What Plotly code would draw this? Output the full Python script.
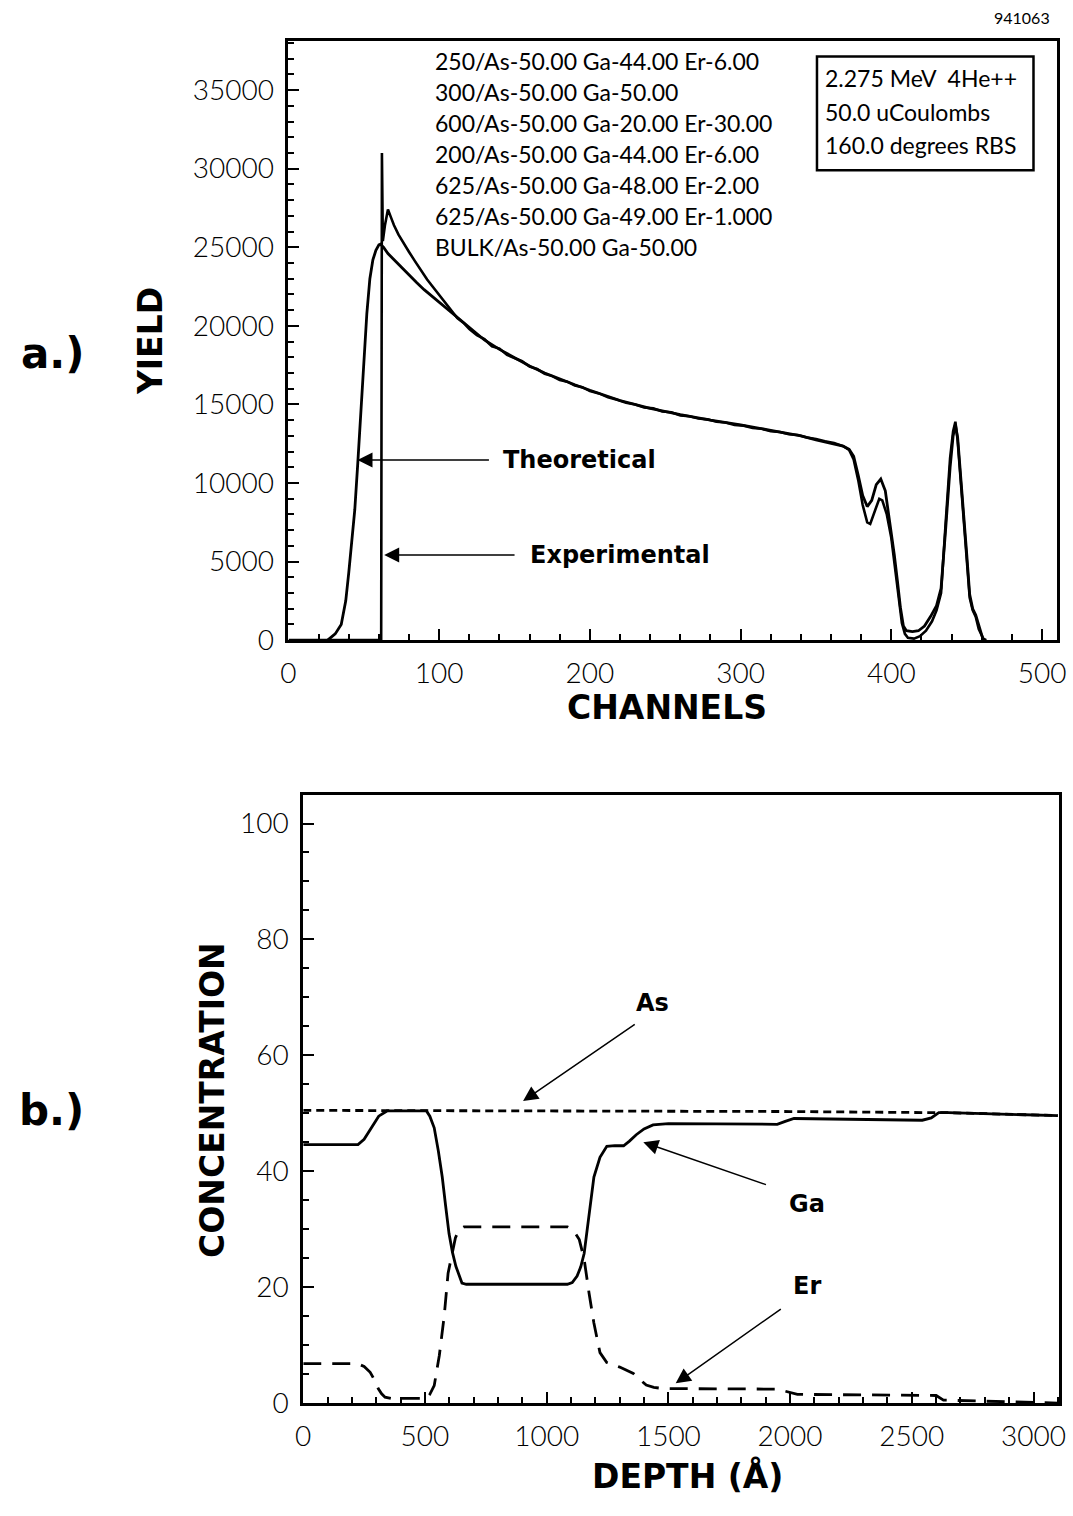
import plotly.graph_objects as go

# ---------------- a.) RBS spectrum ----------------
theo_channel = [26, 28, 31, 35, 38, 40, 42, 44, 46, 48, 50, 52, 54, 56, 58, 60, 61, 63, 66, 70,
                75, 80, 85, 90, 95, 100, 110, 120, 130, 140, 150, 160, 170, 180, 190, 200, 220,
                240, 260, 280, 300, 320, 340, 350, 360, 368, 372, 375, 378, 381, 384, 387, 390,
                393, 396, 399, 402, 404, 406, 408, 410, 414, 418, 422, 426, 430, 433, 436, 439,
                441, 442.5, 444, 446, 448, 450, 452, 454, 456, 458, 461]
theo_yield = [0, 150, 400, 1000, 2500, 4300, 6300, 8300, 11300, 14300, 17500, 20800, 23000,
              24200, 24800, 25150, 25200, 25000, 24600, 24200, 23700, 23200, 22750, 22300,
              21900, 21500, 20700, 19850, 19100, 18500, 17950, 17450, 17000, 16600, 16250,
              15900, 15250, 14750, 14350, 14000, 13700, 13350, 13000, 12750, 12550, 12350,
              12150, 11700, 10500, 9200, 8500, 8900, 9900, 10250, 9500, 7600, 5400, 3800, 2100,
              900, 600, 550, 600, 900, 1500, 2200, 3300, 7000, 11000, 13000, 13700, 12900,
              10600, 8000, 5500, 2900, 2000, 1600, 900, 0]

exp_channel = [0, 61.5, 62, 62.6, 64, 66, 68, 70, 73, 76, 80, 84, 88, 92, 96, 100, 104, 108,
               112, 116, 120, 125, 130, 135, 140, 145, 150, 155, 160, 165, 170, 175, 180, 185,
               190, 195, 200, 206, 212, 218, 224, 230, 236, 242, 248, 254, 260, 266, 272, 278,
               284, 290, 296, 302, 308, 314, 320, 326, 332, 338, 344, 350, 356, 362, 368, 372,
               375, 378, 381, 384, 386, 389, 392, 394, 397, 400, 403, 405, 407, 409, 411, 415,
               419, 423, 427, 430, 433, 436, 439, 441, 442.5, 444, 446, 448, 450, 452, 454,
               456, 458, 461, 463]
exp_yield = [0, 0, 31000, 25400, 26400, 27400, 26900, 26400, 25800, 25300, 24700, 24100, 23500,
             22950, 22450, 21950, 21450, 21000, 20500, 20200, 19800, 19400, 19150, 18700, 18550,
             18150, 17950, 17750, 17400, 17250, 16950, 16800, 16550, 16450, 16200, 16100,
             15850, 15700, 15450, 15300, 15100, 15000, 14800, 14750, 14550, 14500, 14300,
             14250, 14100, 14050, 13900, 13850, 13700, 13650, 13500, 13450, 13300, 13250,
             13100, 13050, 12900, 12800, 12650, 12550, 12350, 12100, 11500, 10200, 8600, 7500,
             7400, 8200, 9000, 8900, 8000, 6500, 4300, 2600, 1100, 400, 150, 100, 250, 600,
             1200, 1900, 3000, 7400, 11600, 13300, 13900, 12700, 10300, 7800, 5200, 2700,
             1900, 1500, 700, 100, 0]

layer_lines = ["250/As-50.00 Ga-44.00 Er-6.00",
               "300/As-50.00 Ga-50.00",
               "600/As-50.00 Ga-20.00 Er-30.00",
               "200/As-50.00 Ga-44.00 Er-6.00",
               "625/As-50.00 Ga-48.00 Er-2.00",
               "625/As-50.00 Ga-49.00 Er-1.000",
               "BULK/As-50.00 Ga-50.00"]
beam_lines = ["2.275 MeV  4He++", "50.0 uCoulombs", "160.0 degrees RBS"]

# ---------------- b.) depth profile ----------------
ga_depth = [0, 225, 250, 280, 310, 344, 506, 520, 538, 555, 571, 585, 599, 613, 627, 652, 670,
            1085, 1105, 1125, 1140, 1154, 1174, 1194, 1219, 1247, 1280, 1316, 1340, 1368, 1400,
            1437, 1500, 1947, 1980, 2016, 2543, 2580, 2611, 2650, 3100]
ga_conc = [44.6, 44.6, 45.5, 47.5, 49.5, 50.4, 50.4, 49.5, 47.5, 43.5, 39, 34, 29.2, 26, 23.6,
           20.7, 20.5, 20.5, 20.8, 21.9, 23.5, 25.8, 32, 39, 42.4, 44.3, 44.4, 44.4, 45.2, 46.3,
           47.3, 48, 48.2, 48.1, 48.6, 49.1, 48.8, 49.2, 50.1, 50.1, 49.6]

as_depth = [0, 1000, 2000, 2611, 2650, 3100]
as_conc = [50.5, 50.4, 50.3, 50.1, 50.1, 49.6]

er_depth = [0, 223, 250, 275, 295, 308, 322, 336, 360, 506, 520, 538, 559, 579, 595, 611, 625,
            640, 660, 1085, 1110, 1134, 1154, 1174, 1194, 1219, 1247, 1300, 1356, 1385, 1409,
            1440, 1478, 1947, 1990, 2030, 2600, 2630, 3100]
er_conc = [6.8, 6.8, 6.3, 5.3, 3.8, 2.5, 1.6, 1.0, 0.8, 0.8, 1.5, 3, 8.2, 15, 22.4, 25.8, 28.5,
           29.9, 30.4, 30.4, 29.8, 28.2, 24.8, 19, 13.8, 8.7, 7, 6.2, 5.1, 4.0, 3.1, 2.7, 2.5,
           2.4, 2.0, 1.5, 1.3, 0.5, 0]

W, H = 1073, 1516
LIGHT = "Lato, 'Open Sans', sans-serif"
HEAVY = "'DejaVu Sans', sans-serif"


def px(x):
    return x / W


def py(y):
    return 1 - y / H


fig = go.Figure()
fig.add_trace(go.Scatter(x=theo_channel, y=theo_yield, mode="lines",
                         line=dict(color="black", width=2.8), xaxis="x", yaxis="y"))
fig.add_trace(go.Scatter(x=exp_channel, y=exp_yield, mode="lines",
                         line=dict(color="black", width=2.6), xaxis="x", yaxis="y"))
fig.add_trace(go.Scatter(x=as_depth, y=as_conc, mode="lines",
                         line=dict(color="black", width=2.8, dash="8px,5px"),
                         xaxis="x2", yaxis="y2"))
fig.add_trace(go.Scatter(x=er_depth, y=er_conc, mode="lines",
                         line=dict(color="black", width=2.8, dash="18px,11px"),
                         xaxis="x2", yaxis="y2"))
fig.add_trace(go.Scatter(x=ga_depth, y=ga_conc, mode="lines",
                         line=dict(color="black", width=2.8), xaxis="x2", yaxis="y2"))

axis_common = dict(showline=True, linecolor="black", linewidth=3, mirror=True,
                   ticks="inside", tickcolor="black", tickwidth=1.5, ticklen=11,
                   showgrid=False, zeroline=False, tickformat="d",
                   ticklabeloverflow="allow",
                   tickfont=dict(family=LIGHT, size=28, color="black", weight=300),
                   ticklabelstandoff=6)

fig.update_layout(
    width=W, height=H, margin=dict(l=0, r=0, t=0, b=0),
    paper_bgcolor="white", plot_bgcolor="white", showlegend=False,
    xaxis=dict(domain=[px(285), px(1066)], range=[0, 510], anchor="y", dtick=100,
               minor=dict(dtick=20, ticks="inside", ticklen=6, tickcolor="black"),
               **axis_common),
    yaxis=dict(domain=[py(647), py(41)], range=[0, 38150], anchor="x", dtick=5000,
               minor=dict(dtick=1000, ticks="inside", ticklen=6, tickcolor="black"),
               **axis_common),
    xaxis2=dict(domain=[px(300), px(1068)], range=[0, 3105], anchor="y2", dtick=500,
                minor=dict(dtick=100, ticks="inside", ticklen=6, tickcolor="black"),
                **axis_common),
    yaxis2=dict(domain=[py(1418), py(803)], range=[0, 105], anchor="x2", dtick=20,
                minor=dict(dtick=5, ticks="inside", ticklen=6, tickcolor="black"),
                **axis_common),
)

ann = []


def paper_text(txt, x, y, font, xanchor="center", angle=0):
    ann.append(dict(x=px(x), y=py(y), xref="paper", yref="paper", text=txt,
                    xanchor=xanchor, yanchor="middle", showarrow=False, textangle=angle,
                    font=font))


# identification number
paper_text("941063", 1030, 18, dict(family=LIGHT, size=16, color="black"))
# layer stack listing
for i, line in enumerate(layer_lines):
    paper_text(line, 432, 62 + i * 31.3, dict(family=LIGHT, size=23, color="black"),
               xanchor="left")
# beam parameters box
for i, line in enumerate(beam_lines):
    paper_text(line, 828, 79 + i * 34, dict(family=LIGHT, size=23, color="black"),
               xanchor="left")

# panel letters and axis titles
for txt, x, y in [("a.)", 46, 357), ("b.)", 44, 1122)]:
    paper_text(txt, x, y, dict(family=HEAVY, size=42, color="black", weight="bold"))
for txt, x, y in [("CHANNELS", 670, 715), ("DEPTH (Å)", 690, 1492)]:
    paper_text(txt, x, y, dict(family=HEAVY, size=33, color="black", weight="bold"))
for txt, x, y in [("YIELD", 145, 345), ("CONCENTRATION", 208, 1112)]:
    paper_text(txt, x, y, dict(family=HEAVY, size=33, color="black", weight="bold"),
               angle=-90)

# curve labels with pointers
label_font = dict(family=HEAVY, size=24, color="black", weight="bold")
arrow_style = dict(text="", showarrow=True, arrowhead=2, arrowsize=2.0, arrowwidth=1.5,
                   arrowcolor="black")
ann.append(dict(x=193, y=11460, xref="x", yref="y", text="Theoretical", showarrow=False,
                font=label_font))
ann.append(dict(x=45.8, y=11460, ax=134, ay=11460, xref="x", yref="y", axref="x", ayref="y",
                **arrow_style))
ann.append(dict(x=220, y=5420, xref="x", yref="y", text="Experimental", showarrow=False,
                font=label_font))
ann.append(dict(x=63.5, y=5420, ax=151, ay=5420, xref="x", yref="y", axref="x", ayref="y",
                **arrow_style))

for txt, tx, ty, tipx, tipy, tailx, taily in [
        ("As", 1433, 69.0, 903, 52.1, 1368, 65.5),
        ("Ga", 2069, 34.4, 1397, 45.0, 1907, 37.6),
        ("Er", 2069, 20.2, 1530, 3.4, 1968, 16.4)]:
    ann.append(dict(x=tx, y=ty, xref="x2", yref="y2", text=txt, showarrow=False,
                    font=label_font))
    ann.append(dict(x=tipx, y=tipy, ax=tailx, ay=taily, xref="x2", yref="y2", axref="x2",
                    ayref="y2", **arrow_style))

fig.update_layout(annotations=ann)
fig.add_shape(type="rect", xref="paper", yref="paper", x0=px(822), x1=px(1042),
              y0=py(172), y1=py(57), line=dict(color="black", width=2.5))

fig.write_html("out.html")
